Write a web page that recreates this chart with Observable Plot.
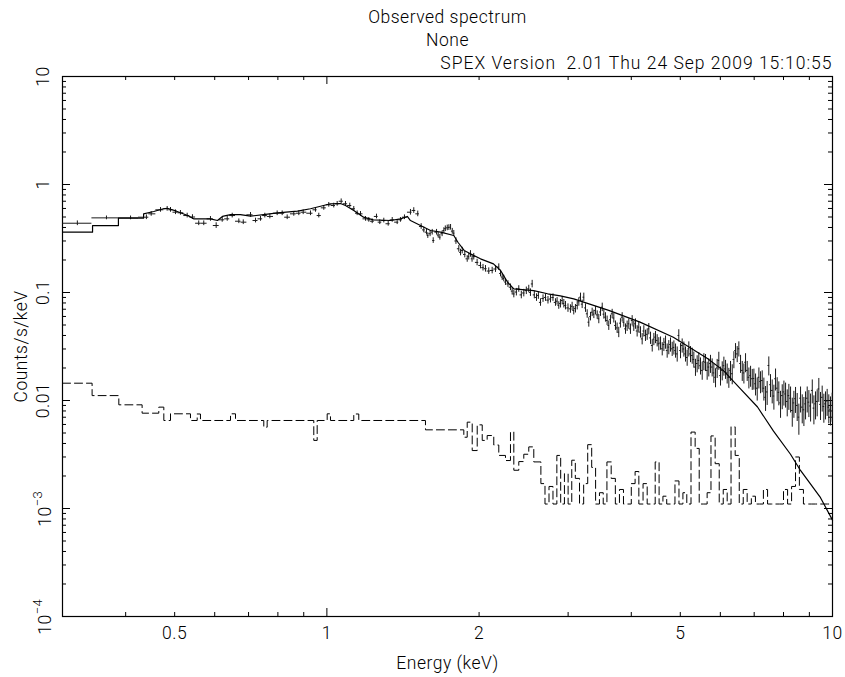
<!DOCTYPE html>
<html><head><meta charset="utf-8">
<script src="https://cdn.jsdelivr.net/npm/d3@7"></script>
<script src="https://cdn.jsdelivr.net/npm/@observablehq/plot@0.6"></script>
<style>
body{margin:0;background:#fff}
svg text{white-space:pre;letter-spacing:0.5px}
.ver text{letter-spacing:1px}
</style>
</head><body><div id="chart"></div>
<script>
// Observed spectrum: [energy keV, counts/s/keV, relative error]
const spectrum = [
[0.321,0.438,0.05],[0.3665,0.491,0.04],[0.409,0.491,0.04],[0.4396,0.498,0.05],[0.4493,0.535,0.05],
[0.4688,0.583,0.05],[0.4832,0.596,0.05],[0.4906,0.583,0.05],[0.5019,0.554,0.05],[0.5133,0.547,0.05],
[0.5293,0.516,0.05],[0.5422,0.500,0.05],[0.5579,0.438,0.05],[0.5708,0.438,0.05],[0.5885,0.481,0.05],
[0.604,0.417,0.06],[0.6208,0.471,0.05],[0.6352,0.481,0.05],[0.6498,0.516,0.05],[0.6697,0.457,0.05],
[0.6833,0.448,0.05],[0.7063,0.524,0.05],[0.7226,0.464,0.05],[0.7392,0.481,0.05],[0.7538,0.516,0.05],
[0.7713,0.506,0.05],[0.7974,0.542,0.05],[0.8158,0.542,0.05],[0.8346,0.498,0.05],[0.8601,0.535,0.05],
[0.88,0.542,0.05],[0.8977,0.554,0.05],[0.928,0.542,0.05],[0.9495,0.583,0.05],[0.9638,0.516,0.05],
[0.986,0.608,0.05],[1.0087,0.649,0.05],[1.0318,0.639,0.05],[1.048,0.663,0.05],[1.0673,0.700,0.05],
[1.0884,0.663,0.05],[1.1099,0.639,0.05],[1.1303,0.596,0.05],[1.1479,0.542,0.05],[1.1655,0.535,0.05],
[1.1923,0.481,0.05],[1.2104,0.471,0.05],[1.2292,0.457,0.05],[1.2535,0.506,0.05],[1.2725,0.448,0.05],
[1.2959,0.464,0.05],[1.3221,0.433,0.05],[1.3465,0.471,0.05],[1.3772,0.448,0.05],[1.398,0.471,0.05],
[1.4238,0.498,0.05],[1.4631,0.554,0.06],[1.4854,0.575,0.06],[1.5127,0.535,0.06],[1.5363,0.409,0.06],
[1.555,0.380,0.06],[1.574,0.362,0.06],[1.5835,0.337,0.06],[1.60,0.350,0.06],[1.6156,0.362,0.06],
[1.6229,0.303,0.06],[1.6478,0.362,0.06],[1.66,0.340,0.06],[1.6728,0.325,0.06],[1.69,0.350,0.06],
[1.7036,0.375,0.06],[1.715,0.390,0.06],[1.7301,0.397,0.06],[1.743,0.400,0.06],[1.7565,0.402,0.06],
[1.77,0.370,0.06],[1.7824,0.354,0.06],[1.80,0.300,0.07],
[1.8235,0.254,0.07],[1.838,0.235,0.07],[1.852,0.245,0.07],[1.874,0.225,0.07],[1.8947,0.205,0.07],
[1.908,0.215,0.07],[1.9231,0.228,0.07],[1.937,0.205,0.07],[1.9521,0.215,0.07],[1.982,0.190,0.07],
[2.0127,0.178,0.07],[2.036,0.170,0.07],[2.0591,0.166,0.07],[2.09,0.158,0.07],[2.1228,0.160,0.07],
[2.155,0.165,0.07],[2.1878,0.172,0.07],[2.205,0.150,0.07],[2.2218,0.139,0.07],[2.238,0.135,0.07],
[2.2554,0.125,0.07],[2.281,0.120,0.07],[2.3074,0.112,0.07],[2.325,0.103,0.08],[2.3428,0.097,0.08],
[2.37,0.101,0.08],[2.3963,0.108,0.07],[2.424,0.095,0.08],[2.4515,0.099,0.08],[2.48,0.104,0.08],
[2.5079,0.108,0.08],[2.527,0.100,0.08],[2.5468,0.120,0.08],[2.572,0.095,0.08],[2.5977,0.090,0.08],
[2.62,0.094,0.08],[2.6454,0.081,0.08],[2.676,0.088,0.08],[2.7064,0.090,0.08],[2.737,0.085,0.08],
[2.7684,0.087,0.08],[2.80,0.090,0.08],[2.8322,0.081,0.08],[2.853,0.083,0.08],[2.8749,0.076,0.08],
[2.897,0.079,0.09],[2.920,0.0843,0.09],[2.942,0.079,0.09],[2.964,0.0758,0.09],[2.998,0.072,0.09],
[3.032,0.0706,0.09],[3.055,0.0745,0.09],[3.078,0.0681,0.09],[3.102,0.071,0.09],[3.127,0.0758,0.09],
[3.150,0.082,0.09],[3.174,0.0905,0.09],[3.198,0.078,0.09],[3.222,0.0905,0.09],[3.247,0.072,0.09],
[3.272,0.0635,0.09],[3.296,0.0531,0.10],[3.322,0.060,0.09],[3.347,0.0657,0.09],[3.373,0.063,0.09],
[3.399,0.0681,0.09],[3.425,0.062,0.09],[3.450,0.0571,0.10],[3.477,0.066,0.09],[3.504,0.0731,0.09],
[3.530,0.063,0.10],[3.556,0.0591,0.10],[3.583,0.055,0.10],[3.610,0.0495,0.10],[3.638,0.056,0.10],
[3.666,0.0635,0.10],[3.694,0.058,0.10],[3.722,0.0495,0.10],[3.750,0.047,0.11],[3.778,0.0429,0.11],
[3.807,0.052,0.10],[3.837,0.0591,0.10],[3.866,0.053,0.10],[3.896,0.0461,0.11],[3.925,0.049,0.11],
[3.955,0.0513,0.11],[3.985,0.046,0.11],[4.016,0.0550,0.11],[4.046,0.049,0.11],[4.077,0.0513,0.11],
[4.108,0.044,0.12],[4.139,0.0478,0.12],[4.171,0.043,0.12],[4.203,0.0372,0.12],[4.235,0.044,0.12],
[4.267,0.0400,0.12],[4.300,0.041,0.12],[4.332,0.0461,0.12],[4.366,0.038,0.13],[4.400,0.0323,0.13],
[4.433,0.037,0.13],[4.466,0.0386,0.13],[4.500,0.036,0.13],[4.534,0.0335,0.14],[4.570,0.034,0.14],
[4.605,0.0301,0.14],[4.640,0.033,0.14],[4.675,0.0347,0.14],[4.710,0.029,0.15],[4.745,0.0312,0.15],
[4.782,0.033,0.15],[4.819,0.0301,0.15],[4.856,0.031,0.15],[4.893,0.0290,0.15],[4.930,0.027,0.16],
[4.966,0.0400,0.13],[5.005,0.029,0.16],[5.043,0.0323,0.15],[5.082,0.030,0.16],[5.120,0.0270,0.16],
[5.159,0.025,0.17],[5.198,0.0301,0.16],[5.238,0.027,0.17],[5.279,0.0261,0.17],[5.318,0.024,0.17],
[5.358,0.0204,0.18],[5.399,0.022,0.18],[5.440,0.0235,0.18],[5.482,0.021,0.18],[5.525,0.0190,0.19],
[5.567,0.023,0.18],[5.609,0.0226,0.18],[5.651,0.019,0.19],[5.693,0.0204,0.19],[5.737,0.022,0.19],
[5.781,0.0204,0.19],[5.825,0.018,0.20],[5.870,0.0164,0.20],[5.914,0.020,0.20],[5.959,0.0235,0.19],
[6.005,0.017,0.20],[6.052,0.0190,0.20],[6.098,0.021,0.20],[6.144,0.0196,0.20],[6.190,0.018,0.21],
[6.237,0.0164,0.21],[6.285,0.019,0.21],[6.334,0.0177,0.21],[6.382,0.024,0.18],[6.430,0.0290,0.16],
[6.479,0.027,0.17],[6.528,0.0301,0.16],[6.579,0.022,0.19],[6.630,0.0190,0.21],[6.680,0.018,0.21],
[6.730,0.0226,0.20],[6.781,0.019,0.21],[6.833,0.0164,0.22],[6.886,0.017,0.22],[6.939,0.0159,0.22],
[6.991,0.016,0.22],[7.044,0.0143,0.23],[7.098,0.013,0.24],[7.152,0.0164,0.22],[7.206,0.015,0.23],
[7.261,0.0153,0.23],[7.316,0.013,0.24],[7.372,0.0107,0.26],[7.427,0.012,0.25],[7.482,0.0211,0.20],
[7.540,0.014,0.24],[7.599,0.0124,0.25],[7.657,0.011,0.26],[7.715,0.0159,0.23],[7.773,0.013,0.25],
[7.832,0.0119,0.25],[7.893,0.0095,0.28],[7.954,0.0111,0.26],[8.015,0.012,0.26],[8.076,0.0115,0.26],
[8.137,0.0098,0.28],[8.198,0.0111,0.27],[8.262,0.0105,0.27],[8.326,0.00808,0.30],[8.388,0.0095,0.28],
[8.451,0.0104,0.27],[8.515,0.009,0.29],[8.580,0.00701,0.32],[8.646,0.0105,0.27],[8.713,0.00868,0.30],
[8.779,0.0082,0.30],[8.845,0.00931,0.29],[8.912,0.0105,0.27],[8.980,0.00965,0.28],[9.050,0.0089,0.29],
[9.120,0.0124,0.25],[9.188,0.0085,0.30],[9.257,0.00931,0.29],[9.326,0.0098,0.28],[9.396,0.0128,0.25],
[9.468,0.0092,0.29],[9.541,0.0107,0.27],[9.614,0.0088,0.30],[9.687,0.00931,0.29],[9.760,0.0099,0.28],
[9.833,0.00868,0.30],[9.909,0.0083,0.30],[9.986,0.00899,0.30]
];

// Model curve: [energy keV, counts/s/keV]
const modelCurve = [
[0.3,0.362],[0.344,0.362],[0.344,0.417],[0.387,0.417],[0.387,0.488],[0.434,0.488],[0.434,0.535],
[0.4546,0.562],[0.475,0.596],[0.4834,0.603],[0.5043,0.566],[0.5305,0.516],[0.5449,0.481],[0.5885,0.481],
[0.6076,0.464],[0.6215,0.506],[0.6448,0.527],[0.6745,0.527],[0.7063,0.509],[0.7496,0.527],[0.7987,0.547],
[0.8746,0.566],[0.928,0.596],[1.0167,0.663],[1.064,0.667],[1.0884,0.639],[1.1303,0.575],[1.1817,0.498],
[1.2355,0.471],[1.3367,0.464],[1.398,0.481],[1.4423,0.506],[1.4631,0.464],[1.5319,0.417],[1.6034,0.375],
[1.6781,0.362],[1.7824,0.337],[1.8162,0.292],[1.8684,0.245],[1.9231,0.228],[2.0127,0.205],[2.1354,0.184],
[2.2058,0.160],[2.2762,0.125],[2.3428,0.108],[2.5643,0.104],[2.7326,0.0973],[2.896,0.093],[3.078,0.0874],
[3.61,0.0684],[4.163,0.0532],[4.844,0.0385],[5.658,0.0245],[6.087,0.0189],[6.577,0.0128],[7.108,0.0087],
[7.644,0.0052],[8.259,0.00318],[8.644,0.00225],[9.469,0.00126],[10,0.00078]
];

// Background histogram: [bin lower edge keV, counts/s/keV]; last entry closes the final bin
const background = [
[0.3,0.01446],[0.3433,0.0111],[0.3877,0.00912],[0.4311,0.00763],[0.4651,0.00868],[0.4759,0.00653],
[0.4906,0.00753],[0.5373,0.00653],[0.554,0.0075],[0.5623,0.00653],[0.6448,0.00753],[0.6596,0.00653],
[0.7503,0.00566],[0.7619,0.00653],[0.9421,0.00427],[0.9568,0.00653],[1.0014,0.00753],[1.0165,0.00653],
[1.1303,0.0075],[1.1563,0.00653],[1.5668,0.00535],[1.8657,0.00457],[1.8947,0.0063],[1.9383,0.00344],
[1.983,0.00595],[2.0288,0.00427],[2.0749,0.00474],[2.1384,0.00387],[2.1878,0.0031],[2.2554,0.00278],
[2.3074,0.0051],[2.3428,0.00226],[2.3963,0.00272],[2.4515,0.00318],[2.5079,0.00372],[2.5658,0.0027],
[2.65,0.0017],[2.70,0.0011],[2.75,0.0016],[2.80,0.0011],[2.85,0.0031],[2.90,0.0011],[2.95,0.0021],
[3.00,0.0011],[3.05,0.0028],[3.10,0.0019],[3.16,0.0011],[3.22,0.0017],[3.28,0.0039],[3.34,0.0024],
[3.40,0.0011],[3.46,0.0014],[3.52,0.0011],[3.58,0.0027],[3.65,0.0019],[3.72,0.0011],[3.79,0.0015],
[3.86,0.0011],[3.93,0.0011],[4.00,0.0017],[4.07,0.0022],[4.14,0.0011],[4.22,0.0017],[4.30,0.0011],
[4.38,0.0011],[4.46,0.0027],[4.54,0.0011],[4.62,0.0013],[4.70,0.0011],[4.79,0.0011],[4.88,0.0018],
[4.97,0.0011],[5.06,0.0014],[5.15,0.0011],[5.25,0.0051],[5.35,0.0036],[5.45,0.0011],[5.55,0.0011],
[5.65,0.0014],[5.75,0.0047],[5.86,0.0026],[5.97,0.0011],[6.08,0.0015],[6.19,0.0011],[6.30,0.0057],
[6.42,0.0031],[6.54,0.0011],[6.66,0.0015],[6.78,0.0011],[6.91,0.0013],[7.04,0.0011],[7.17,0.0011],
[7.30,0.0015],[7.44,0.0011],[7.58,0.0011],[7.72,0.0011],[7.86,0.0011],[8.00,0.0015],[8.15,0.0011],
[8.30,0.0016],[8.45,0.0030],[8.60,0.0015],[8.76,0.0011],[8.92,0.0011],[9.08,0.0011],[9.25,0.0011],
[9.42,0.0011],[9.60,0.0011],[9.78,0.0011],[10,0.0011]
];

const xTickValues = [0.5, 1, 2, 5, 10];
const xTickLabels = ["0.5", "1", "2", "5", "10"];
const yTickValues = [10, 1, 0.1, 0.01];
const yTickLabels = ["10", "1", "0.1", "0.01"];
const yPowValues = [0.001, 0.0001];
const yPowBase = ["10", "10"];
const yPowExp = ["\u22123", "\u22124"];
const xMajor = [1];
const xMinor = [0.4, 0.5, 0.6, 0.7, 0.8, 0.9, 2, 3, 4, 5, 6, 7, 8, 9];
const yMajor = [0.001, 0.01, 0.1, 1];
const yMinor = [];
for (const d of [1e-4, 1e-3, 1e-2, 0.1, 1]) for (let k = 2; k <= 9; k++) yMinor.push(+(d * k).toPrecision(3));

const titleText = "Observed spectrum";
const subtitleText = "None";
const versionText = "SPEX Version  2.01 Thu 24 Sep 2009 15:10:55";
const xLabel = "Energy (keV)";
const yLabel = "Counts/s/keV";

// derived table (bins spanning to neighbouring centres)
const sorted = d3.sort(spectrum, d => d[0]);
const n = sorted.length;
const rows = sorted.map(([e, c, r], i) => {
  const prev = i > 0 ? sorted[i - 1][0] : null;
  const next = i < n - 1 ? sorted[i + 1][0] : null;
  const lo = prev ? Math.sqrt(prev * e) : Math.max(0.3, e * e / Math.sqrt(e * next));
  const hi = next ? Math.sqrt(e * next) : Math.min(10, e * e / Math.sqrt(prev * e));
  return {e, c, lo, hi, y1: c * (1 - r), y2: c * (1 + r)};
});
const model = modelCurve.map(([e, c]) => ({e, c}));
const bg = background.map(([e, c]) => ({e, c}));

const FW = 845 - 62 - 13, FH = 677 - 76 - 61;
const font = "Roboto, Liberation Sans, Arial, sans-serif";
const fs = 17.5;

const chart = Plot.plot({
  width: 845, height: 677,
  marginLeft: 62, marginRight: 13, marginTop: 76, marginBottom: 61,
  x: {type: "log", domain: [0.3, 10], axis: null},
  y: {type: "log", domain: [1e-4, 10], axis: null},
  style: {fontFamily: font, fontWeight: 300, background: "white", color: "black", overflow: "visible"},
  marks: [
    // ticks (inside the frame)
    Plot.ruleX(xMinor, {insetTop: FH - 4, stroke: "black"}),
    Plot.ruleX(xMinor, {insetBottom: FH - 4, stroke: "black"}),
    Plot.ruleX(xMajor, {insetTop: FH - 8, stroke: "black"}),
    Plot.ruleX(xMajor, {insetBottom: FH - 8, stroke: "black"}),
    Plot.ruleY(yMinor, {insetRight: FW - 4, stroke: "black"}),
    Plot.ruleY(yMinor, {insetLeft: FW - 4, stroke: "black"}),
    Plot.ruleY(yMajor, {insetRight: FW - 8, stroke: "black"}),
    Plot.ruleY(yMajor, {insetLeft: FW - 8, stroke: "black"}),
    Plot.frame({stroke: "black", strokeWidth: 1.2}),
    // background (dashed histogram)
    Plot.line(bg, {x: "e", y: "c", curve: "step-after", stroke: "black", strokeWidth: 1, strokeDasharray: "8,4"}),
    // data crosses
    Plot.ruleY(rows, {y: "c", x1: "lo", x2: "hi", stroke: "#1a1a1a", strokeWidth: 1}),
    Plot.ruleX(rows, {x: "e", y1: "y1", y2: "y2", stroke: "#1a1a1a", strokeWidth: 1}),
    // model
    Plot.line(model, {x: "e", y: "c", stroke: "black", strokeWidth: 1.2}),
    // tick labels
    Plot.text(xTickValues, {x: d => d, text: (d, i) => xTickLabels[i], frameAnchor: "bottom", dy: 17, fontSize: fs, lineAnchor: "middle"}),
    Plot.text(yTickValues, {y: d => d, text: (d, i) => yTickLabels[i], frameAnchor: "left", dx: -19, rotate: -90, textAnchor: "middle", lineAnchor: "middle", fontSize: fs}),
    Plot.text(yPowValues, {y: d => d, text: (d, i) => yPowBase[i], frameAnchor: "left", dx: -17, dy: 8, rotate: -90, textAnchor: "middle", lineAnchor: "middle", fontSize: fs}),
    Plot.text(yPowValues, {y: d => d, text: (d, i) => yPowExp[i], frameAnchor: "left", dx: -25, dy: -10, rotate: -90, textAnchor: "middle", lineAnchor: "middle", fontSize: 13}),
    // axis labels
    Plot.text([xLabel], {frameAnchor: "bottom", dy: 47, fontSize: fs, lineAnchor: "middle"}),
    Plot.text([yLabel], {frameAnchor: "left", dx: -41, rotate: -90, textAnchor: "middle", lineAnchor: "middle", fontSize: fs}),
    // titles
    Plot.text([titleText], {frameAnchor: "top", dy: -59, fontSize: fs, lineAnchor: "middle"}),
    Plot.text([subtitleText], {frameAnchor: "top", dy: -36, fontSize: fs, lineAnchor: "middle"}),
    Plot.text([versionText], {frameAnchor: "top-right", textAnchor: "end", dy: -13, fontSize: fs, lineAnchor: "middle", className: "ver"})
  ]
});
document.getElementById("chart").appendChild(chart);
</script>
</body></html>
